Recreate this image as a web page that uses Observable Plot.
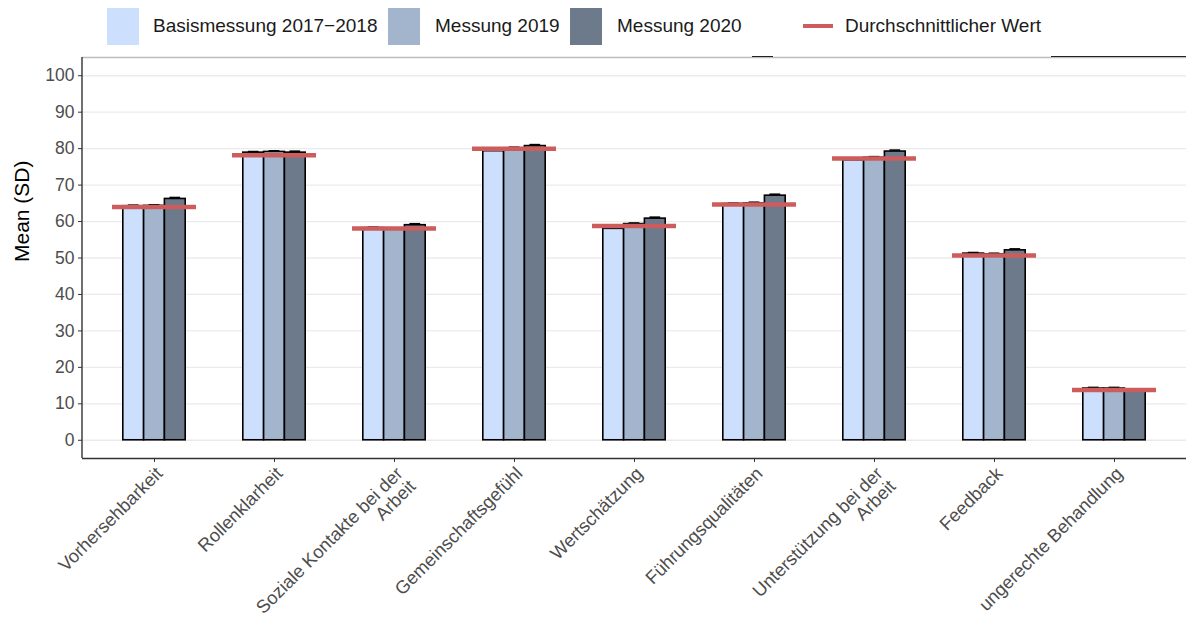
<!DOCTYPE html>
<html><head><meta charset="utf-8">
<script src="https://cdn.jsdelivr.net/npm/d3@7"></script>
<script src="https://cdn.jsdelivr.net/npm/@observablehq/plot@0.6"></script>
<style>
body{margin:0;background:#fff;font-family:"Liberation Sans",Arial,sans-serif;}
#wrap{position:relative;width:1186px;height:621px;overflow:hidden}
#legend{position:relative;height:52px;}
.sw{position:absolute;top:8px;width:32px;height:37px}
.ln{position:absolute;top:24px;width:30px;height:4px;background:#cd5c5c}
.lt{position:absolute;top:15px;font-size:19px;color:#1a1a1a;white-space:nowrap}
.blk{position:absolute;top:55.5px;height:1.5px;background:#222}
</style></head><body>
<div id="wrap"><div id="legend"></div><div id="chart"></div></div>
<script>
// ---- data ----
const categories = ["Vorhersehbarkeit","Rollenklarheit","Soziale Kontakte bei der Arbeit","Gemeinschaftsgefühl","Wertschätzung","Führungsqualitäten","Unterstützung bei der Arbeit","Feedback","ungerechte Behandlung"];
const tickLabels = ["Vorhersehbarkeit","Rollenklarheit","Soziale Kontakte bei der\nArbeit","Gemeinschaftsgefühl","Wertschätzung","Führungsqualitäten","Unterstützung bei der\nArbeit","Feedback","ungerechte Behandlung"];
const series = ["Basismessung 2017\u22122018","Messung 2019","Messung 2020"];
const valuesBase = [64.2, 78.9, 58.2, 79.3, 58.0, 64.8, 76.8, 51.2, 14.2];
const values2019 = [64.3, 79.1, 57.8, 80.1, 59.3, 65.0, 77.5, 51.0, 14.2];
const values2020 = [66.2, 78.9, 59.0, 80.7, 60.8, 67.1, 79.2, 52.1, 13.6];
const sdBase = [0.3, 0.3, 0.3, 0.3, 0.3, 0.3, 0.3, 0.3, 0.3];
const sd2019 = [0.3, 0.3, 0.3, 0.3, 0.3, 0.3, 0.3, 0.3, 0.3];
const sd2020 = [0.4, 0.4, 0.4, 0.4, 0.4, 0.4, 0.4, 0.4, 0.4];
const averages = [64.0, 78.2, 58.1, 80.0, 58.8, 64.7, 77.3, 50.7, 13.8];
const avgLabel = "Durchschnittlicher Wert";
const yTicks = [0,10,20,30,40,50,60,70,80,90,100];
const yLabel = "Mean (SD)";

// ---- styles ----
const colors = ["#cce0fd","#a3b4cd","#6c7a8c"];
const avgColor = "#cd5c5c";

// ---- legend ----
const legend = document.getElementById("legend");
const swLeft = [107, 388, 570], txtLeft = [153, 435, 617];
series.forEach((s,j)=>{
  const sw = document.createElement("div"); sw.className="sw"; sw.style.left=swLeft[j]+"px"; sw.style.background=colors[j]; legend.appendChild(sw);
  const t = document.createElement("div"); t.className="lt"; t.style.left=txtLeft[j]+"px"; t.textContent=s; legend.appendChild(t);
});
{ const l=document.createElement("div"); l.className="ln"; l.style.left="803px"; legend.appendChild(l);
  const t=document.createElement("div"); t.className="lt"; t.style.left="845px"; t.textContent=avgLabel; legend.appendChild(t);
  [[752,21],[1051,135]].forEach(([x,w])=>{const b=document.createElement("div"); b.className="blk"; b.style.left=x+"px"; b.style.width=w+"px"; legend.appendChild(b);});
}

// ---- chart ----
const W=1186, H=569, ML=82, MR=0, MT=5, MB=163;
const pInner=0.3, pOuter=0.25;
const step=(W-ML-MR)/(categories.length - pInner + 2*pOuter);
const bw=step*(1-pInner);
const barW=step*0.52/3;
const pad=(bw-3*barW)/2;
const seriesVals=[valuesBase, values2019, values2020];
const seriesSd=[sdBase, sd2019, sd2020];
const rows = categories.flatMap((c,i)=>series.map((s,j)=>({cat:c, series:s, j, value:seriesVals[j][i], sd:seriesSd[j][i]})));
const avgRows = categories.map((c,i)=>({cat:c, avg:averages[i]}));

const marks=[
  Plot.gridY(yTicks,{stroke:"#ebebeb", strokeOpacity:1, strokeWidth:1.3}),
  Plot.ruleY([105],{stroke:"#bdbdbd", strokeWidth:1.3}),
];
series.forEach((s,j)=>{
  const data=rows.filter(d=>d.j===j);
  const insetLeft=pad+j*barW, insetRight=bw-pad-(j+1)*barW;
  marks.push(Plot.tickY(data,{x:"cat", y:d=>d.value+d.sd, stroke:"black", strokeWidth:1.6, insetLeft:insetLeft+5, insetRight:insetRight+5}));
  marks.push(Plot.barY(data,{x:"cat", y:"value", fill:colors[j], stroke:"black", strokeWidth:1.6, insetLeft, insetRight}));
});
marks.push(Plot.tickY(avgRows,{x:"cat", y:"avg", stroke:avgColor, strokeWidth:4.5}));
marks.push(Plot.ruleY([-5],{stroke:"#333", strokeWidth:1.4}));
marks.push(Plot.axisY(yTicks,{tickSize:4, tickPadding:4, fontSize:17.5, fill:"#4d4d4d", stroke:"#333", label:null}));
marks.push(Plot.axisX({tickSize:4, tickPadding:3, fontSize:18.3, fill:"#4d4d4d", stroke:"#333", tickRotate:-45, label:null,
  tickFormat:d=>tickLabels[categories.indexOf(d)], textAnchor:"end", lineAnchor:"top"}));
marks.push(Plot.text([yLabel],{frameAnchor:"left", dx:-60, dy:4, rotate:-90, fontSize:21, fill:"black", text:d=>d}));

const chart = Plot.plot({
  width:W, height:H, marginLeft:ML, marginRight:MR, marginTop:MT, marginBottom:MB,
  style:{fontFamily:"'Liberation Sans', Arial, sans-serif", background:"white", overflow:"visible"},
  x:{domain:categories, paddingInner:pInner, paddingOuter:pOuter},
  y:{domain:[-5,105]},
  marks
});
document.getElementById("chart").appendChild(chart);
d3.select(chart).append("line").attr("x1",ML).attr("x2",ML).attr("y1",MT).attr("y2",H-MB).attr("stroke","#333").attr("stroke-width",1.4);
</script>
</body></html>
